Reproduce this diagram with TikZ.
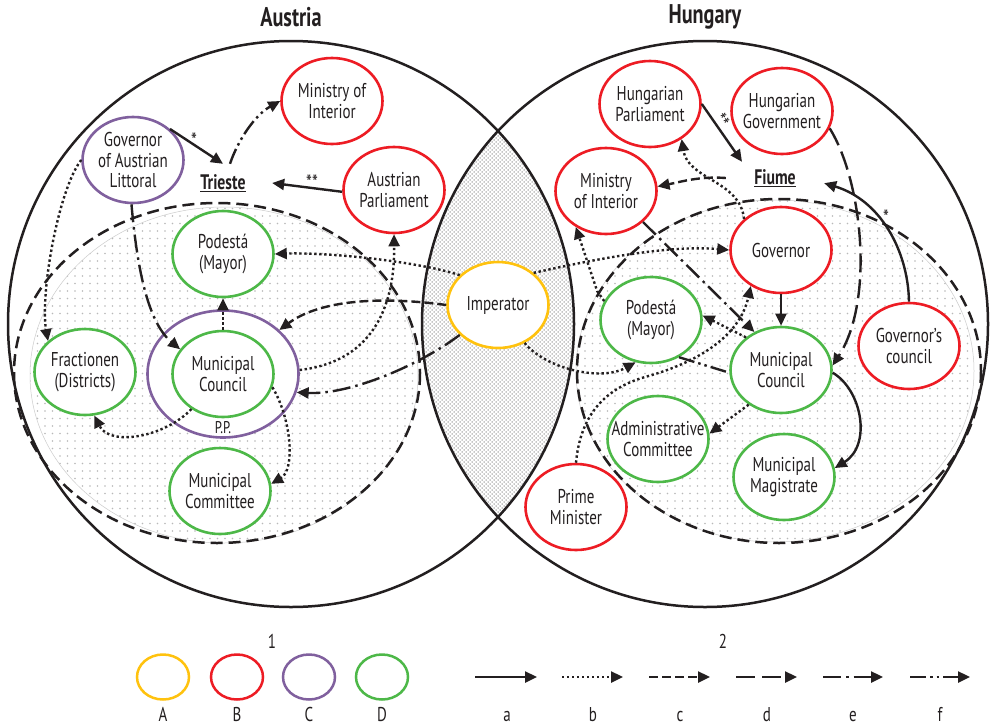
\documentclass[tikz,border=0pt]{standalone}
\usepackage{fontspec}
\setmainfont{PT Sans}[FakeStretch=0.75]
\usetikzlibrary{shapes.geometric,arrows.meta,patterns}

\pgfdeclarepatternformonly{sparsedots}{\pgfpoint{-1pt}{-1pt}}{\pgfpoint{1pt}{1pt}}{\pgfpoint{7.5pt}{7.5pt}}{\pgfpathcircle{\pgfpointorigin}{0.8pt}\pgfusepath{fill}}
\pgfdeclarepatternformonly{densedots}{\pgfpoint{-1pt}{-1pt}}{\pgfpoint{3pt}{3pt}}{\pgfpoint{4pt}{4pt}}{\pgfpathcircle{\pgfpointorigin}{0.75pt}\pgfpathcircle{\pgfpoint{2pt}{2pt}}{0.75pt}\pgfusepath{fill}}

\definecolor{cred}{RGB}{237,28,36}
\definecolor{cgreen}{RGB}{77,184,72}
\definecolor{cpurple}{RGB}{128,96,158}
\definecolor{cyellow}{RGB}{255,194,14}
\definecolor{ink}{RGB}{35,31,32}

\tikzset{
  nd/.style={ellipse, line width=2.6pt, fill=white, minimum width=101pt, minimum height=86pt,
    inner xsep=-25pt, inner ysep=-6pt, align=center, font=\fontsize{20}{20.5}\selectfont, text=ink},
  rednd/.style={nd, draw=cred},
  grnnd/.style={nd, draw=cgreen},
  purnd/.style={nd, draw=cpurple},
  yelnd/.style={nd, draw=cyellow},
  legnd/.style={ellipse, line width=2.5pt, minimum width=52pt, minimum height=45pt, inner sep=0pt},
  town/.style={rectangle, minimum width=98pt, minimum height=38pt, inner sep=0pt,
    font=\bfseries\fontsize{21}{22}\selectfont, text=ink},
  ttl/.style={font=\bfseries\fontsize{27}{28}\selectfont, text=ink, inner sep=0pt},
  lbl/.style={font=\fontsize{20}{21}\selectfont, text=ink, inner sep=0pt},
  keylbl/.style={lbl, anchor=base},
  starlbl/.style={font=\fontsize{22}{22}\selectfont, text=ink, inner sep=0pt},
  conn/.style={line width=2.4pt, draw=ink},
  arrowtip/.style={-{Triangle[length=12pt,width=11pt]}},
  sa/.style={conn, arrowtip},
  sb/.style={conn, arrowtip, dash pattern=on 2.4pt off 2.6pt},
  sc/.style={conn, arrowtip, dash pattern=on 9pt off 4pt},
  sd/.style={conn, arrowtip, dash pattern=on 19pt off 7pt},
  se/.style={conn, arrowtip, dash pattern=on 18pt off 5pt on 2.5pt off 5pt},
  sf/.style={conn, arrowtip, dash pattern=on 16pt off 4pt on 2.5pt off 4pt on 2.5pt off 4pt},
  sfplain/.style={conn, dash pattern=on 16pt off 4pt on 2.5pt off 4pt on 2.5pt off 4pt},
  bigcirc/.style={line width=2.5pt, draw=ink},
  innerfill/.style={pattern=sparsedots, pattern color=gray!55, draw=gray!40, line width=0.5pt},
  innerdash/.style={line width=2.5pt, draw=ink, dash pattern=on 12pt off 6pt},
}

\begin{document}
\begin{tikzpicture}[x=1pt, y=-1pt]
\useasboundingbox (0,0) rectangle (990,726);
\fill[white] (0,0) rectangle (990,726);

% lens (overlap of the two countries)
\begin{scope}
  \clip (291,324) circle (283);
  \fill[pattern=densedots, pattern color=black!45] (705,324) circle (283);
\end{scope}

% inner dotted regions
\filldraw[innerfill] (224,375) ellipse [x radius=194, y radius=168];
\filldraw[innerfill] (775,371) ellipse [x radius=199, y radius=171];
\draw[innerdash] (217,373) ellipse [x radius=203, y radius=170];
\draw[innerdash] (779,371) ellipse [x radius=202, y radius=172];

% country circles
\draw[bigcirc] (291,324) circle (283);
\draw[bigcirc] (705,324) circle (283);

\node[ttl] (austria) at (291,17) {Austria};
\node[ttl] (hungary) at (705,17) {Hungary};

% Austria nodes
\node[yelnd] (imp) at (498,305) {Imperator};
\node[purnd] (gal) at (133,160) {Governor\\of Austrian\\Littoral};
\node[rednd] (moia) at (332,101) {Ministry of\\Interior};
\node[rednd] (ap) at (394,190) {Austrian\\Parliament};
\node[grnnd] (poda) at (223,254) {Podestá\\(Mayor)};
\node[purnd, minimum width=151pt, minimum height=127pt] (mcp) at (223,374) {};
\node[grnnd] (mci) at (223,374) {Municipal\\Council};
\node[grnnd] (frac) at (85,372) {Fractionen\\(Districts)};
\node[grnnd] (mcom) at (220,491) {Municipal\\Committee};
\node[lbl, font=\fontsize{17}{18}\selectfont] (pp) at (223,428) {P.P.};
\node[town] (trieste) at (223,183) {\underline{Trieste}};

% Hungary nodes
\node[rednd] (hp) at (650,104) {Hungarian\\Parliament};
\node[rednd] (hg) at (782,111) {Hungarian\\Government};
\node[rednd] (moih) at (606,191) {Ministry\\of Interior};
\node[town] (fiume) at (775,178) {\underline{Fiume}};
\node[rednd] (gov) at (781,250) {Governor};
\node[grnnd] (podh) at (651,320) {Podestá\\(Mayor)};
\node[grnnd] (mch) at (781,370) {Municipal\\Council};
\node[rednd] (gc) at (909,346) {Governor’s\\council};
\node[grnnd] (adm) at (658,439) {Administrative\\Committee};
\node[grnnd] (mmag) at (784,477) {Municipal\\Magistrate};
\node[rednd] (pm) at (576,507) {Prime\\Minister};

% Austria connectors
\draw[sa] (gal.40) -- (trieste.north);
\node[starlbl] (st1) at (194,141) {*};
\draw[sa] (ap.182) -- (trieste.east);
\node[starlbl] (st2) at (312,183) {**};
\draw[sf] (trieste.70) .. controls (238,140) and (255,115) .. (moia.west);
\draw[sb] (gal.180) .. controls (58,190) and (40,295) .. (frac.140);
\draw[se] (gal.268) .. controls (136,255) and (145,320) .. (mci.150);
\draw[sb] (imp.142) .. controls (420,262) and (330,252) .. (poda.east);
\draw[sc] (imp.west) .. controls (380,296) and (320,300) .. (mcp.38);
\draw[se] (imp.218) .. controls (420,365) and (350,395) .. (mcp.-14);
\draw[sb] (mcp.3) .. controls (370,362) and (395,310) .. (ap.south);
\draw[sb] (mci.north) -- (poda.south);
\draw[sb] (mci.228) .. controls (165,437) and (110,447) .. (frac.282);
\draw[sb] (mci.-15) .. controls (292,420) and (295,470) .. (mcom.8);

% Hungary connectors
\draw[sa] (hp.east) -- ([xshift=-33pt,yshift=-3pt]fiume.north);
\node[starlbl, rotate=-56] (st3) at (721,121) {**};
\draw[sc] (fiume.west) .. controls (700,176) and (680,182) .. (moih.5);
\draw[sb] (gov.140) .. controls (740,180) and (688,180) .. (hp.-48);
\draw[sa] (gc.north) .. controls (908,250) and (880,200) .. (fiume.-6);
\node[starlbl] (st4) at (886,218) {*};
\draw[sd] (hg.-20) .. controls (862,180) and (875,300) .. (mch.5);
\draw[se] (moih.-40) -- (mch.125);
\draw[sb] (imp.42) .. controls (600,258) and (670,245) .. (gov.west);
\draw[sb] (imp.-55) .. controls (545,368) and (600,382) .. (podh.250);
\draw[sb] (pm.north) .. controls (580,420) and (600,390) .. (645,377)
          .. controls (700,362) and (740,335) .. (gov.230);
\draw[sb] (mch.137) -- (podh.5);
\draw[sb] (podh.158) -- ++(-7,-10) -- (moih.230);
\draw[sfplain] (podh.-53) -- (mch.183);
\draw[sa] (gov.south) -- (mch.north);
\draw[sa] (mch.-3) .. controls (862,390) and (872,445) .. (mmag.10);
\draw[sb] (mch.227) -- (adm.6);

% legend 1
\node[lbl] (l1) at (272,641) {1};
\node[legnd, draw=cyellow] (la) at (163,677) {};
\node[legnd, draw=cred] (lb) at (237,677) {};
\node[legnd, draw=cpurple] (lc) at (309,677) {};
\node[legnd, draw=cgreen] (ld) at (382,677) {};
\node[keylbl] (tA) at (163,721) {A};
\node[keylbl] (tB) at (237,721) {B};
\node[keylbl] (tC) at (309,721) {C};
\node[keylbl] (tD) at (382,721) {D};

% legend 2
\node[lbl] (l2) at (723,641) {2};
\coordinate (a1) at (475,677); \coordinate (a2) at (537,677);
\coordinate (b1) at (562,677); \coordinate (b2) at (623,677);
\coordinate (c1) at (649,677); \coordinate (c2) at (710,677);
\coordinate (d1) at (736,677); \coordinate (d2) at (797,677);
\coordinate (e1) at (823,677); \coordinate (e2) at (883,677);
\coordinate (f1) at (910,677); \coordinate (f2) at (970,677);
\draw[sa] (a1) -- (a2);
\draw[sb] (b1) -- (b2);
\draw[sc] (c1) -- (c2);
\draw[sd] (d1) -- (d2);
\draw[se] (e1) -- (e2);
\draw[sf] (f1) -- (f2);
\node[keylbl] (ta) at (507,721) {a};
\node[keylbl] (tb) at (593,721) {b};
\node[keylbl] (tc) at (680,721) {c};
\node[keylbl] (td) at (767,721) {d};
\node[keylbl] (te) at (853,721) {e};
\node[keylbl] (tf) at (940,721) {f};
\end{tikzpicture}
\end{document}
